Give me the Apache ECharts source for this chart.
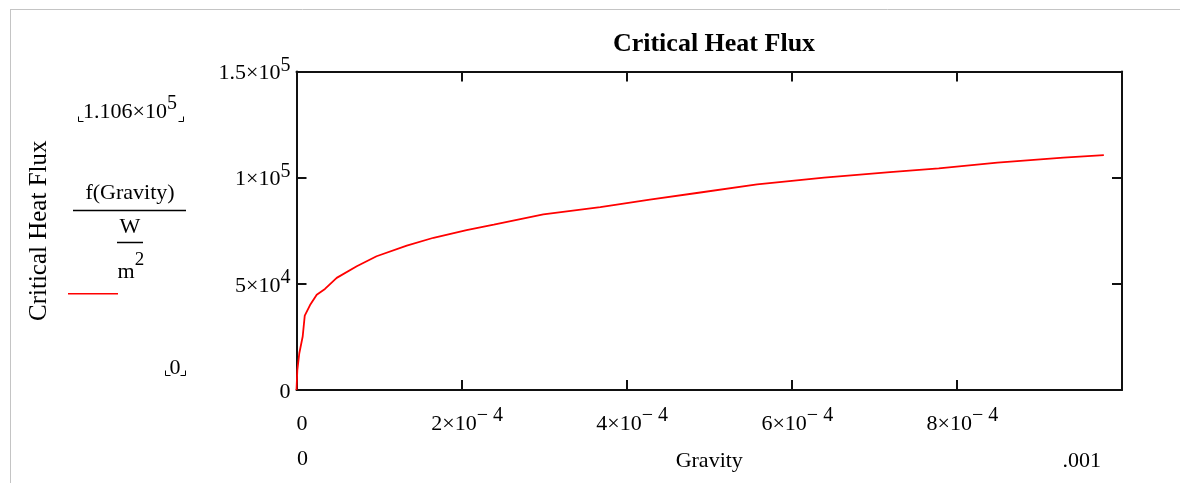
<!DOCTYPE html>
<html>
<head>
<meta charset="utf-8">
<script src="https://cdn.jsdelivr.net/npm/echarts@6/dist/echarts.min.js"></script>
<style>
html,body{margin:0;padding:0;background:#fff;}
#chart{width:1180px;height:483px;}
</style>
</head>
<body>
<div id="chart"></div>
<script>
// ---- data ----
const gravity = [0, 0.000001, 0.0000034, 0.0000075, 0.00001, 0.0000164, 0.0000245, 0.0000345, 0.0000487,
  0.000073, 0.000097, 0.0001336, 0.000166, 0.000206, 0.000239, 0.000299, 0.000368, 0.000428,
  0.000487, 0.000558, 0.000639, 0.000719, 0.000778, 0.000849, 0.000929, 0.000978];
const chf = [0, 9400, 17300, 25200, 35000, 40000, 44900, 47600, 52800,
  58300, 63000, 68000, 71700, 75300, 77900, 82700, 86100, 89700,
  92900, 96800, 100000, 102600, 104400, 107100, 109400, 110600];

const yTickBase = ['0', '5×10', '1×10', '1.5×10'];
const yTickExp = ['', '4', '5', '5'];
const xTickBase = ['0', '2×10', '4×10', '6×10', '8×10'];
const xTickExp = ['', '− 4', '− 4', '− 4', '− 4'];
const xRangeLabels = ['0', '.001'];
const yRangeMax = ['1.106×10', '5'];
const yRangeMin = '0';
const titleText = 'Critical Heat Flux';
const xName = 'Gravity';
const yName = 'Critical Heat Flux';
const legendNumerator = 'f(Gravity)';

const FONT = "'Liberation Serif', 'Times New Roman', serif";
const X_MAX = 0.001, X_INT = 0.0002, Y_MAX = 150000, Y_INT = 50000;

const rich = {
  m: {fontFamily: FONT, fontSize: 22, lineHeight: 36, color: '#000'},
  s: {fontFamily: FONT, fontSize: 20, lineHeight: 20, verticalAlign: 'top', color: '#000'}
};
function fmt(base, exp) {
  return exp ? '{m|' + base + '}{s|' + exp + '}' : '{m|' + base + '}';
}

const axisLineStyle = {color: '#111', width: 2};
const tickStyle = {show: true, inside: true, length: 10, lineStyle: {color: '#111', width: 2}};

const chart = echarts.init(document.getElementById('chart'), null, {renderer: 'canvas'});

function bracket(x, y, dir) {
  // small Mathcad placeholder corner mark
  return {type: 'polyline', shape: {points: [[x, y - 5], [x, y], [x + 5 * dir, y]]},
          style: {stroke: '#000', lineWidth: 1, fill: null}, silent: true};
}

const option = {
  animation: false,
  backgroundColor: '#fff',
  title: {
    text: titleText, left: 709, top: 26, textAlign: 'center',
    textStyle: {fontFamily: FONT, fontSize: 26, fontWeight: 'bold', color: '#000'}
  },
  grid: {left: 296.5, right: 58, top: 71.5, bottom: 93, containLabel: false},
  legend: {
    data: ['f'], left: 68, top: 293, padding: 0, icon: 'rect', itemWidth: 50, itemHeight: 1.5,
    formatter: () => '', selectedMode: false
  },
  xAxis: [{
    type: 'value', min: 0, max: X_MAX, interval: X_INT, position: 'bottom',
    axisLine: {show: true, onZero: false, lineStyle: axisLineStyle},
    axisTick: tickStyle, splitLine: {show: false},
    axisLabel: {
      margin: 16, padding: [0, 0, 0, 11], rich: rich, showMaxLabel: false,
      formatter: v => { const i = Math.round(v / X_INT); return i < xTickBase.length ? fmt(xTickBase[i], xTickExp[i]) : ''; }
    },
    name: xName, nameLocation: 'middle', nameGap: 60,
    nameTextStyle: {fontFamily: FONT, fontSize: 22, color: '#000'}
  }, {
    type: 'value', min: 0, max: X_MAX, interval: X_INT, position: 'top',
    axisLine: {show: true, onZero: false, lineStyle: axisLineStyle},
    axisTick: tickStyle, axisLabel: {show: false}, splitLine: {show: false}
  }],
  yAxis: [{
    type: 'value', min: 0, max: Y_MAX, interval: Y_INT, position: 'left',
    axisLine: {show: true, onZero: false, lineStyle: axisLineStyle},
    axisTick: tickStyle, splitLine: {show: false},
    axisLabel: {
      margin: 6, padding: [4, 0, 0, 0], rich: rich,
      formatter: v => { const i = Math.round(v / Y_INT); return fmt(yTickBase[i], yTickExp[i]); }
    },
    name: yName, nameLocation: 'middle', nameGap: 245,
    nameTextStyle: {fontFamily: FONT, fontSize: 25, color: '#000'}
  }, {
    type: 'value', min: 0, max: Y_MAX, interval: Y_INT, position: 'right',
    axisLine: {show: true, onZero: false, lineStyle: axisLineStyle},
    axisTick: tickStyle, axisLabel: {show: false}, splitLine: {show: false}
  }],
  series: [{
    name: 'f', type: 'line', xAxisIndex: 0, yAxisIndex: 0,
    data: gravity.map((g, i) => [g, chf[i]]),
    showSymbol: false, symbol: 'none', smooth: false,
    lineStyle: {color: '#ff0000', width: 1.8}, itemStyle: {color: '#ff0000'}
  }],
  graphic: [
    // outer frame of the worksheet region
    {type: 'line', shape: {x1: 10, y1: 9.5, x2: 1180, y2: 9.5}, style: {stroke: '#c4c4c4', lineWidth: 1}, silent: true},
    {type: 'line', shape: {x1: 10.5, y1: 9.5, x2: 10.5, y2: 483}, style: {stroke: '#c4c4c4', lineWidth: 1}, silent: true},
    // y range markers
    {type: 'text', x: 83, y: 112, style: {text: fmt(yRangeMax[0], yRangeMax[1]), rich: rich, textAlign: 'left', textVerticalAlign: 'middle'}, silent: true},
    bracket(78.5, 121.5, 1), bracket(183.5, 121.5, -1),
    {type: 'text', x: 175, y: 368, style: {text: yRangeMin, fontFamily: FONT, fontSize: 22, fill: '#000', textAlign: 'center', textVerticalAlign: 'middle'}, silent: true},
    bracket(165.5, 375.5, 1), bracket(185.5, 375.5, -1),
    // legend expression f(Gravity) / (W / m^2)
    {type: 'text', x: 130, y: 193, style: {text: legendNumerator, fontFamily: FONT, fontSize: 22, fill: '#000', textAlign: 'center', textVerticalAlign: 'middle'}, silent: true},
    {type: 'line', shape: {x1: 73, y1: 210.5, x2: 186, y2: 210.5}, style: {stroke: '#000', lineWidth: 1.5}, silent: true},
    {type: 'text', x: 130, y: 227, style: {text: 'W', fontFamily: FONT, fontSize: 22, fill: '#000', textAlign: 'center', textVerticalAlign: 'middle'}, silent: true},
    {type: 'line', shape: {x1: 117, y1: 242.5, x2: 143, y2: 242.5}, style: {stroke: '#000', lineWidth: 1.5}, silent: true},
    {type: 'text', x: 126, y: 272.5, style: {text: 'm', fontFamily: FONT, fontSize: 22, fill: '#000', textAlign: 'center', textVerticalAlign: 'middle'}, silent: true},
    {type: 'text', x: 139.5, y: 260, style: {text: '2', fontFamily: FONT, fontSize: 19, fill: '#000', textAlign: 'center', textVerticalAlign: 'middle'}, silent: true},
    // x range markers
    {type: 'text', x: 297, y: 459, style: {text: xRangeLabels[0], fontFamily: FONT, fontSize: 22, fill: '#000', textAlign: 'left', textVerticalAlign: 'middle'}, silent: true},
    {type: 'text', x: 1101, y: 461, style: {text: xRangeLabels[1], fontFamily: FONT, fontSize: 22, fill: '#000', textAlign: 'right', textVerticalAlign: 'middle'}, silent: true}
  ]
};
chart.setOption(option);
</script>
</body>
</html>
